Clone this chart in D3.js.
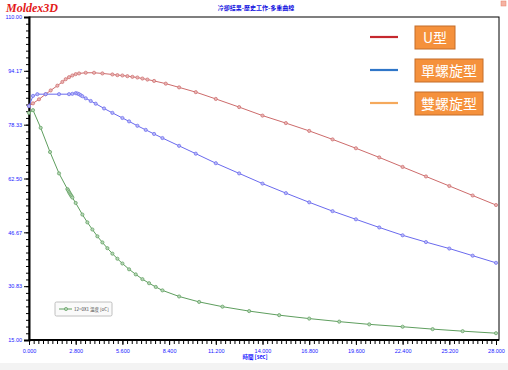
<!DOCTYPE html>
<html>
<head>
<meta charset="utf-8">
<script src="https://cdn.jsdelivr.net/npm/d3@7"></script>
<style>
  body { margin: 0; background: #fff; }
  svg { display: block; }
</style>
</head>
<body>
<script>
// values
const yTicks = [15.00, 30.83, 46.67, 62.50, 78.33, 94.17, 110.00];
const xTicks = [0, 2.8, 5.6, 8.4, 11.2, 14, 16.8, 19.6, 22.4, 25.2, 28];

const redT = [0, 0.24, 0.6, 1.0, 1.3, 1.7, 2.0, 2.2, 2.4, 2.6, 2.8, 3.0, 3.4, 3.9, 4.4, 5.0, 5.3, 5.6, 5.9, 6.2, 6.5, 6.8, 7.1, 7.5, 8.2, 9.0, 10.0, 11.2, 12.6, 14.0, 15.4, 16.8, 18.2, 19.6, 21.0, 22.4, 23.8, 25.2, 26.6, 28.0];
const redV = [83.8, 84.6, 85.8, 87.3, 88.4, 89.8, 90.9, 91.7, 92.3, 92.8, 93.2, 93.4, 93.6, 93.6, 93.4, 93.1, 92.9, 92.8, 92.6, 92.4, 92.2, 91.9, 91.6, 91.2, 90.4, 89.3, 87.9, 85.9, 83.5, 81.0, 78.8, 76.5, 74.0, 71.4, 68.7, 65.9, 63.1, 60.3, 57.5, 54.7];

const blueT = [0, 0.24, 0.5, 1.0, 1.8, 2.4, 2.6, 2.8, 2.9, 3.0, 3.1, 3.2, 3.4, 3.7, 4.0, 4.5, 5.0, 5.6, 6.0, 6.5, 7.0, 7.5, 8.0, 9.0, 10.0, 11.2, 12.6, 14.0, 15.4, 16.8, 18.2, 19.6, 21.0, 22.4, 23.8, 25.2, 26.6, 28.0];
const blueV = [83.8, 86.8, 87.3, 87.3, 87.3, 87.3, 87.4, 87.6, 87.5, 87.3, 87.0, 86.7, 86.1, 85.3, 84.5, 83.1, 81.8, 80.3, 79.3, 78.0, 76.8, 75.6, 74.4, 72.1, 69.8, 67.0, 64.0, 61.0, 58.2, 55.5, 52.9, 50.5, 48.1, 45.8, 43.8, 41.9, 39.8, 37.7];

const greenT = [0, 0.24, 0.7, 1.26, 1.8, 2.3, 2.35, 2.4, 2.45, 2.5, 2.55, 2.6, 2.8, 3.2, 3.5, 3.8, 4.1, 4.4, 4.7, 5.0, 5.3, 5.6, 6.0, 6.4, 6.8, 7.2, 7.6, 8.0, 9.0, 10.2, 11.6, 13.2, 15.0, 16.8, 18.6, 20.4, 22.4, 24.2, 26.0, 28.0];
const greenV = [81.8, 82.6, 77.4, 70.3, 64.0, 59.4, 59.0, 58.5, 58.1, 57.7, 57.3, 56.9, 55.3, 51.9, 49.6, 47.5, 45.5, 43.7, 42.0, 40.4, 38.9, 37.5, 35.8, 34.3, 32.9, 31.7, 30.6, 29.6, 27.8, 26.2, 24.8, 23.5, 22.3, 21.3, 20.4, 19.6, 18.9, 18.2, 17.6, 17.0];

const series = [
  { t: redT, v: redV, stroke: '#cd6b6b', fill: '#e9b5b5' },
  { t: blueT, v: blueV, stroke: '#6a6aee', fill: '#b9b9f7' },
  { t: greenT, v: greenV, stroke: '#5e9e5e', fill: '#b6d6b6' }
];

const legendItems = [
  { name: 'U型', color: '#c5282e' },
  { name: '單螺旋型', color: '#2f76c8' },
  { name: '雙螺旋型', color: '#f5a95c' }
];

const W = 508, H = 370;
const plotL = 29, plotR = 499, plotT = 17, plotB = 340;

const svg = d3.select('body').append('svg')
  .attr('width', W)
  .attr('height', H);

svg.append('rect').attr('x', 0).attr('y', 0).attr('width', W).attr('height', H).attr('fill', '#fff');
svg.append('rect').attr('x', 0).attr('y', 363).attr('width', W).attr('height', 7).attr('fill', '#f3f3f3');

const x = d3.scaleLinear().domain([0, 28]).range([plotL, 496]);
const y = d3.scaleLinear().domain([15, 110]).range([plotB, plotT]);

// logo + title
svg.append('text')
  .attr('x', 6).attr('y', 12)
  .attr('font-family', '"Liberation Serif", "DejaVu Serif", serif')
  .attr('font-style', 'italic').attr('font-weight', 'bold')
  .attr('font-size', 12).attr('fill', '#e31a1a')
  .text('Moldex3D');

svg.append('text')
  .attr('x', 256).attr('y', 10)
  .attr('text-anchor', 'middle')
  .attr('font-family', '"Noto Sans CJK TC", sans-serif')
  .attr('font-size', 6).attr('font-weight', 'bold').attr('fill', '#1010e0')
  .text('冷卻結果-歷史工作-多重曲線');

// little close mark at top right
svg.append('rect').attr('x', 501).attr('y', 1).attr('width', 5).attr('height', 5)
  .attr('fill', '#f4b3a3').attr('stroke', '#e8806a').attr('stroke-width', 0.5);

// frame
svg.append('rect')
  .attr('x', plotL).attr('y', plotT)
  .attr('width', plotR - plotL).attr('height', plotB - plotT)
  .attr('fill', 'none').attr('stroke', '#000').attr('stroke-width', 1);

// y axis
const yMinor = d3.range(0, 49).map(i => 15 + i * (95 / 48));
svg.append('g')
  .attr('transform', `translate(${plotL},0)`)
  .call(d3.axisLeft(y).tickValues(yMinor).tickSize(3).tickFormat(''))
  .call(g => g.select('.domain').remove())
  .call(g => g.selectAll('line').attr('stroke', '#000').attr('stroke-width', 1));

svg.append('g')
  .attr('transform', `translate(${plotL},0)`)
  .call(d3.axisLeft(y).tickValues(yTicks).tickSize(5).tickPadding(2).tickFormat(d3.format('.2f')))
  .call(g => g.select('.domain').attr('stroke', '#000').attr('stroke-width', 2))
  .call(g => g.selectAll('line').attr('stroke', '#000'))
  .call(g => g.selectAll('text')
    .attr('fill', '#1a1aff').attr('font-size', 5.5)
    .attr('font-family', '"Liberation Sans", Arial, sans-serif'));

// x axis
const xMinor = d3.range(0, 101).map(i => i * 0.28);
svg.append('g')
  .attr('transform', `translate(0,${plotB})`)
  .call(d3.axisBottom(x).tickValues(xMinor).tickSize(4).tickFormat(''))
  .call(g => g.select('.domain').remove())
  .call(g => g.selectAll('line').attr('stroke', '#000'));

svg.append('g')
  .attr('transform', `translate(0,${plotB})`)
  .call(d3.axisBottom(x).tickValues(xTicks).tickSize(5).tickPadding(4).tickFormat(d3.format('.3f')))
  .call(g => g.select('.domain').attr('stroke', '#000').attr('stroke-width', 2).attr('d', `M${plotL},0H${plotR}`))
  .call(g => g.selectAll('text')
    .attr('fill', '#1a1aff').attr('font-size', 5.5)
    .attr('font-family', '"Liberation Sans", Arial, sans-serif'));

svg.append('text')
  .attr('x', 255).attr('y', 359)
  .attr('text-anchor', 'middle')
  .attr('font-family', '"Noto Sans CJK TC", sans-serif')
  .attr('font-size', 5.5).attr('font-weight', 'bold').attr('fill', '#1a1aff')
  .text('時間 [sec]');

// curves
const line = d3.line().x(d => x(d[0])).y(d => y(d[1]));
series.forEach(s => {
  const pts = s.t.map((t, i) => [t, s.v[i]]);
  svg.append('path')
    .datum(pts)
    .attr('d', line)
    .attr('fill', 'none')
    .attr('stroke', s.stroke)
    .attr('stroke-width', 1);
  svg.append('g').selectAll('circle').data(pts).enter()
    .append('circle')
    .attr('cx', d => x(d[0]))
    .attr('cy', d => y(d[1]))
    .attr('r', 1.6)
    .attr('fill', s.fill)
    .attr('stroke', s.stroke)
    .attr('stroke-width', 0.7);
});

// inner legend box
const lg = svg.append('g').attr('transform', 'translate(55,302)');
lg.append('rect').attr('width', 57).attr('height', 14).attr('rx', 1.5)
  .attr('fill', '#fafafa').attr('stroke', '#b0b0b0').attr('stroke-width', 0.8);
lg.append('line').attr('x1', 4).attr('x2', 17).attr('y1', 7).attr('y2', 7)
  .attr('stroke', '#5e9e5e').attr('stroke-width', 1);
lg.append('circle').attr('cx', 11).attr('cy', 7).attr('r', 1.6)
  .attr('fill', '#b6d6b6').attr('stroke', '#5e9e5e').attr('stroke-width', 0.7);
lg.append('text').attr('x', 19).attr('y', 9)
  .attr('font-family', '"Noto Sans CJK TC", sans-serif')
  .attr('font-size', 4.5).attr('fill', '#444')
  .text('12=0X1 溫度 [oC]');

// overlay legend
const ol = svg.append('g');
const boxW = [40, 68, 68];
legendItems.forEach((d, i) => {
  const cy = 37 + i * 33;
  ol.append('line')
    .attr('x1', 370).attr('x2', 398).attr('y1', cy).attr('y2', cy)
    .attr('stroke', d.color).attr('stroke-width', 2.2);
  ol.append('rect')
    .attr('x', 415).attr('y', cy - 11)
    .attr('width', boxW[i]).attr('height', 23)
    .attr('fill', '#f5913c').attr('stroke', '#c46d28').attr('stroke-width', 1);
  ol.append('text')
    .attr('x', 415 + boxW[i] / 2).attr('y', cy + 5.5)
    .attr('text-anchor', 'middle')
    .attr('font-family', '"Noto Sans CJK TC", sans-serif')
    .attr('font-size', 14).attr('fill', '#fff')
    .text(d.name);
});
</script>
</body>
</html>
